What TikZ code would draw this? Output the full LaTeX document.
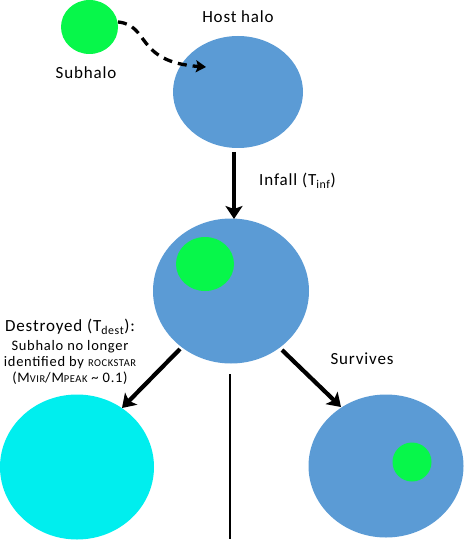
\documentclass[tikz,border=0pt]{standalone}
\usepackage{fontspec}
\setmainfont{Carlito}[LetterSpace=5]
\usetikzlibrary{arrows.meta,shapes.geometric}
\definecolor{halo}{HTML}{5B9BD5}
\definecolor{subg}{HTML}{07F74A}
\definecolor{dest}{HTML}{00EEEE}
\newcommand{\smc}[1]{{\fontsize{10.5}{12}\selectfont #1}}
\begin{document}
\begin{tikzpicture}[x=1pt,y=-1pt,
  blob/.style={ellipse,inner sep=0pt,outer sep=0pt},
  lbl/.style={font=\fontsize{17}{20}\selectfont,inner sep=0pt},
  small/.style={font=\fontsize{14.5}{16.2}\selectfont,inner sep=0pt,align=center},
  bigarrow/.style={line width=4.2pt,-{Stealth[length=13pt,width=17pt,inset=3pt]}},
  dasharrow/.style={line width=3.3pt,dash pattern=on 9pt off 6pt,-{Stealth[length=10pt,width=12pt,inset=2pt]}}]
\useasboundingbox (0,0) rectangle (463,540);
% halos
\node[blob,fill=subg,minimum width=57pt,minimum height=54pt] (sub) at (89.5,27) {};
\node[blob,fill=halo,minimum width=130pt,minimum height=112pt] (host) at (238,92) {};
\node[blob,fill=halo,minimum width=156pt,minimum height=145pt] (mid) at (231,291) {};
\node[blob,fill=subg,minimum width=58pt,minimum height=54pt] (midsub) at (205,264) {};
\node[blob,fill=dest,minimum width=154pt,minimum height=145pt] (destroyed) at (77,467) {};
\node[blob,fill=halo,minimum width=155pt,minimum height=143pt] (surv) at (386,466) {};
\node[blob,fill=subg,minimum width=39pt,minimum height=39pt] (survsub) at (412,462) {};
% labels
\node[lbl] (sublbl) at (86,73) {Subhalo};
\node[lbl] (hostlbl) at (238,17) {Host halo};
\node[lbl,anchor=west] (infall) at (259,181) {Infall (T\textsubscript{inf})};
\node[lbl] (destlbl) at (70,327) {Destroyed (T\textsubscript{dest}):};
\node[small,anchor=north] (destnote) at (70,340) {Subhalo no longer\\identified by \smc{ROCKSTAR}\\(M\smc{VIR}/M\smc{PEAK} \textasciitilde{} 0.1)};
\node[lbl] (survlbl) at (362,359) {Survives};
% connectors
\coordinate (dashstart) at (118,22);
\coordinate (dashend) at (206,67);
\draw[dasharrow] (dashstart) .. controls (150,25) and (135,62) .. (dashend);
\coordinate (infallstart) at (234,152);
\coordinate (infallend) at (234,219);
\draw[bigarrow] (infallstart) -- (infallend);
\coordinate (lstart) at (180,349);
\coordinate (lend) at (122,408);
\draw[bigarrow] (lstart) -- (lend);
\coordinate (rstart) at (282,350);
\coordinate (rend) at (341,407);
\draw[bigarrow] (rstart) -- (rend);
\coordinate (vtop) at (230,374);
\coordinate (vbot) at (230,539);
\draw[line width=2.6pt] (vtop) -- (vbot);
\end{tikzpicture}
\end{document}
